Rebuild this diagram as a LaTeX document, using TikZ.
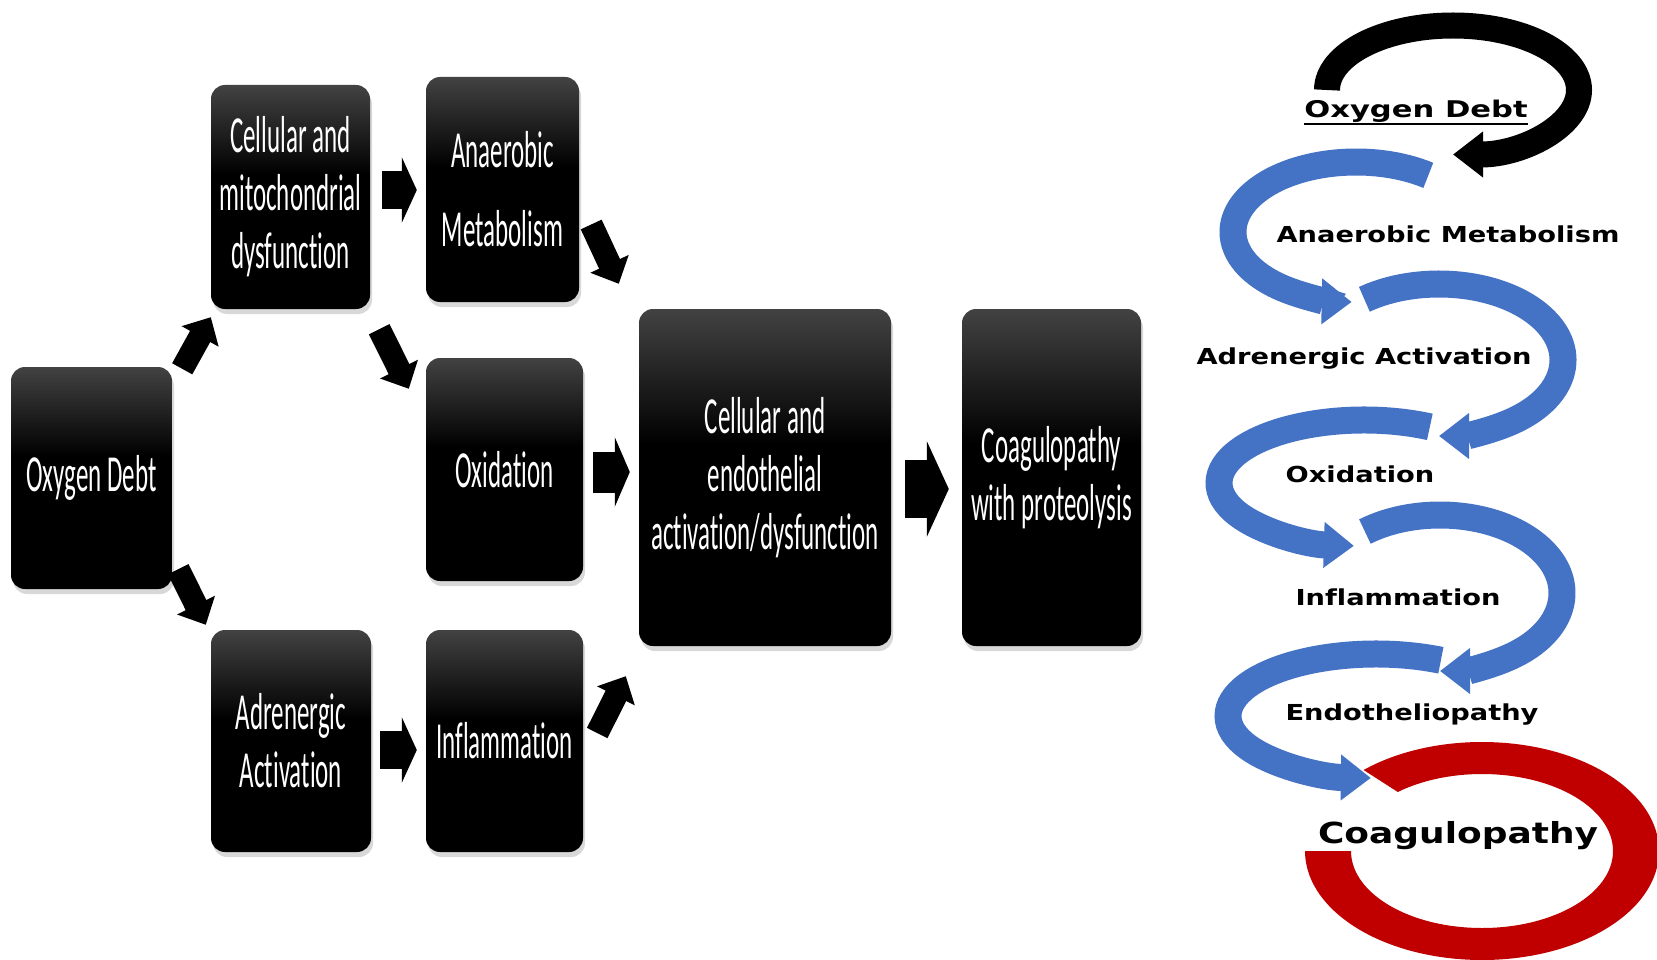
\documentclass[tikz,border=0pt]{standalone}
\usepackage{fontspec}
\usetikzlibrary{arrows.meta,shadows,calc}
\newfontfamily\boxfont[FakeStretch=0.48,Ligatures=NoCommon]{Carlito}
\newfontfamily\labfont[FakeStretch=1.24,Ligatures=NoCommon]{DejaVu Sans Bold}
\newfontfamily\headfont[FakeStretch=1.33,Ligatures=NoCommon]{DejaVu Sans Bold}
\definecolor{cycblue}{HTML}{4472C4}
\definecolor{cycred}{HTML}{C00000}
% dark grey at the top fading to black
\pgfdeclareverticalshading{boxshade}{100bp}{color(0bp)=(black); color(25bp)=(black); color(55bp)=(black); color(75bp)=(black!74); color(100bp)=(black!74)}
\tikzset{
  box/.style={rounded corners=14pt, shading=boxshade,
    drop shadow={shadow xshift=2pt, shadow yshift=-5pt, opacity=0.3},
    text=white, align=center, inner sep=0pt,
    font=\boxfont\fontsize{52}{58}\selectfont},
  blk/.style n args={3}{line width=#1, line cap=butt, draw=black,
    -{Triangle[width=#2,length=#3]}},
  cyc/.style={line width=27pt, line cap=butt, -{Triangle[width=44pt,length=30pt]}},
  lab/.style={inner sep=0pt, anchor=base, font=\labfont\fontsize{22}{26}\selectfont}
}
\begin{document}
\begin{tikzpicture}[x=1pt,y=-1pt]
\useasboundingbox (0,0) rectangle (1657,960);
\fill[white] (0,0) rectangle (1657,960);
\clip (0,0) rectangle (1657,960);

% ---- flow of boxes ----
\node[box, minimum width=161pt, minimum height=222pt] (o2) at (91.5,478) {Oxygen Debt};
\node[box, minimum width=159pt, minimum height=224pt] (cm) at (290.5,197) {Cellular and\\mitochondrial\\dysfunction};
\node[box, minimum width=153pt, minimum height=225pt, font=\boxfont\fontsize{52}{79}\selectfont] (an) at (502.5,189.5) {Anaerobic\\Metabolism};
\node[box, minimum width=157pt, minimum height=223pt] (ox) at (504.5,469.5) {Oxidation};
\node[box, minimum width=160pt, minimum height=222pt] (ad) at (291,741) {Adrenergic\\Activation};
\node[box, minimum width=157pt, minimum height=222pt] (inf) at (504.5,741) {Inflammation};
\node[box, minimum width=252pt, minimum height=337pt] (ce) at (765,477.5) {Cellular and\\endothelial\\activation/dysfunction};
\node[box, minimum width=179pt, minimum height=337pt] (co) at (1051.5,477.5) {Coagulopathy\\with proteolysis};

% ---- block arrows between boxes ----
\draw[blk={38pt}{65pt}{15pt}] ([shift={(12,-7)}]cm.east) -- ([shift={(-9,0.5)}]an.west);
\draw[blk={38pt}{65pt}{15pt}] ([shift={(9,9)}]ad.east) -- ([shift={(-9,9)}]inf.west);
\draw[blk={41pt}{69pt}{15pt}] ([shift={(10,2.5)}]ox.east) -- ([shift={(-9,-5.5)}]ce.west);
\draw[blk={58pt}{95pt}{22pt}] ([shift={(14,11.5)}]ce.east) -- ([shift={(-13,11.5)}]co.west);
\draw[blk={23pt}{41pt}{22pt}] ([shift={(10,2)}]o2.north east) -- ([shift={(0,8)}]cm.south west);
\draw[blk={23pt}{41pt}{22pt}] ([shift={(6,-20)}]o2.south east) -- ([shift={(-5,-5)}]ad.north west);
\draw[blk={23pt}{41pt}{22pt}] ([shift={(9,20)}]cm.south east) -- ([shift={(-17,31)}]ox.north west);
\draw[blk={23pt}{41pt}{22pt}] ([shift={(12,35)}]an.east) -- ([shift={(-20,-25)}]ce.north west);
\draw[blk={23pt}{41pt}{22pt}] ([shift={(14,-8)}]inf.east) -- ([shift={(-13,30)}]ce.south west);

% ---- cycle on the right ----
\coordinate (k0) at (1453,90);
\coordinate (b1) at (1356,232);
\coordinate (b2) at (1439,360);
\coordinate (b3) at (1364,483);
\coordinate (b4) at (1440,593);
\coordinate (b5) at (1376,716);
\coordinate (rc) at (1482,851);

\draw[cyc, black, line width=26pt] ([shift={(180:126 and 64.5)}]k0) arc[start angle=180, end angle=450, x radius=126, y radius=64.5];
\draw[cyc, cycblue] ([shift={(-54:123 and 70)}]b1) arc[start angle=-54, end angle=-268, x radius=123, y radius=70];
\draw[cyc, cycblue] ([shift={(-127:124 and 76)}]b2) arc[start angle=-127, end angle=90, x radius=124, y radius=76];
\draw[cyc, cycblue] ([shift={(-63:145 and 63)}]b3) arc[start angle=-63, end angle=-266, x radius=145, y radius=63];
\draw[cyc, cycblue] ([shift={(-128:122 and 78)}]b4) arc[start angle=-128, end angle=90, x radius=122, y radius=78];
\draw[cyc, cycblue] ([shift={(-64:148 and 62)}]b5) arc[start angle=-64, end angle=-268, x radius=148, y radius=62];
\fill[cycred] ([shift={(-132:177 and 109)}]rc) arc[start angle=-132, end angle=180, x radius=177, y radius=109]
  -- ([shift={(180:131 and 77)}]rc) arc[start angle=180, end angle=-130, x radius=131, y radius=77] -- cycle;

\node[lab, font=\headfont\fontsize{23}{26}\selectfont] (l0) at (1416,118) {Oxygen Debt};
\draw[line width=1.6pt] ([yshift=-6pt]l0.base west) -- ([yshift=-6pt]l0.base east);
\node[lab] (l1) at (1448,242) {Anaerobic Metabolism};
\node[lab] (l2) at (1364,364) {Adrenergic Activation};
\node[lab] (l3) at (1360,482) {Oxidation};
\node[lab] (l4) at (1398,605) {Inflammation};
\node[lab] (l5) at (1412,720) {Endotheliopathy};
\node[lab, font=\labfont\fontsize{29}{32}\selectfont] (l6) at (1458,843) {Coagulopathy};
\end{tikzpicture}
\end{document}
